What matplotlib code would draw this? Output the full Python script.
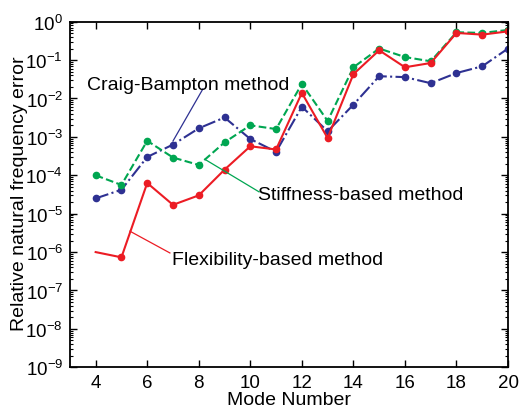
import matplotlib
matplotlib.use("Agg")
import matplotlib.pyplot as plt
from matplotlib.ticker import LogLocator, NullFormatter

plt.rcParams['font.family'] = ['Liberation Sans', 'DejaVu Sans']
plt.rcParams['mathtext.fontset'] = 'custom'
plt.rcParams['mathtext.rm'] = 'Liberation Sans'
plt.rcParams['mathtext.it'] = 'Liberation Sans:italic'

# mode numbers and relative errors
modes = list(range(4, 21))
flexibility = [1.0e-6, 7.3e-7, 6.3e-5, 1.7e-5, 3.0e-5, 1.4e-4, 5.7e-4, 4.7e-4, 1.4e-2,
               9.3e-4, 4.3e-2, 0.18, 0.065, 0.084, 0.51, 0.46, 0.56]
stiffness = [1.0e-4, 5.6e-5, 7.9e-4, 2.9e-4, 1.86e-4, 7.2e-4, 2.0e-3, 1.6e-3, 2.4e-2,
             2.6e-3, 0.065, 0.20, 0.12, 0.093, 0.53, 0.51, 0.61]
craig_bampton = [2.5e-5, 4.2e-5, 3.0e-4, 6.3e-4, 1.67e-3, 3.2e-3, 8.8e-4, 4.1e-4, 6.1e-3,
                 1.4e-3, 6.9e-3, 0.038, 0.036, 0.025, 0.046, 0.069, 0.20]
decades = [10.0 ** k for k in range(-9, 1)]

red = '#ec1c24'
green = '#00a651'
blue = '#2e3192'

fig = plt.figure(figsize=(5.2, 4.14), dpi=100)
ax = fig.add_axes([0.1344, 0.1104, 0.8426, 0.8348])

ax.plot(modes, craig_bampton, color=blue, ls='-.', lw=1.5, marker='o', ms=4.5)
ax.plot(modes, stiffness, color=green, ls='--', lw=1.5, marker='o', ms=4.5)
ax.plot(modes, flexibility, color=red, ls='-', lw=1.5, marker='o', ms=4.5,
        markevery=list(range(1, len(modes))))

ax.set_yscale('log')
ax.set_xlim(3, 20)
ax.set_ylim(1e-9, 1e0)
ax.set_xticks(range(4, 21, 2))
ax.set_yticks(decades)
ax.yaxis.set_minor_locator(LogLocator(base=10, subs=range(2, 10), numticks=12))
ax.yaxis.set_minor_formatter(NullFormatter())
ax.tick_params(which='both', direction='in', top=True, right=True, labelsize=13.5)
ax.tick_params(which='major', length=5, width=1, pad=5)
ax.tick_params(which='minor', length=2.5, width=0.8)
for s in ax.spines.values():
    s.set_linewidth(1.3)

ax.set_xlabel('Mode Number', fontsize=14)
ax.set_ylabel('Relative natural frequency error', fontsize=14)
ax.xaxis.set_label_coords(0.5, -0.068)
ax.yaxis.set_label_coords(-0.096, 0.504)

# callout labels
ax.plot([8.16, 7.0], [0.0177, 7.8e-4], color=blue, lw=0.9)
ax.text(3.67, 0.0172, 'Craig-Bampton method', fontsize=14, va='baseline', ha='left')
ax.plot([10.34, 8.24], [3.7e-5, 2.6e-4], color=green, lw=0.9)
ax.text(10.3, 2.4e-5, 'Stiffness-based method', fontsize=14, va='baseline', ha='left')
ax.plot([6.88, 5.33], [9.5e-7, 3.5e-6], color=red, lw=0.9)
ax.text(6.97, 4.9e-7, 'Flexibility-based method', fontsize=14, va='baseline', ha='left')

fig.savefig('out.png', dpi=100)
